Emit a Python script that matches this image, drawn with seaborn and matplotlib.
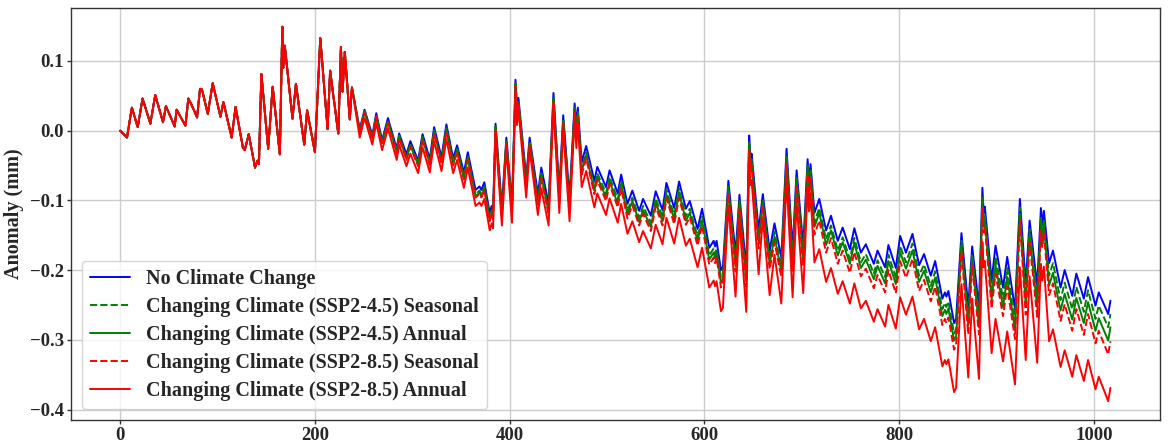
import matplotlib
matplotlib.use("Agg")
import matplotlib.pyplot as plt
import seaborn as sns
import pandas as pd

# ---- data (vertices) ----
early_x = [0, 7, 12, 18, 23, 31, 36, 44, 47, 56,
           58, 67, 70, 73, 79, 82, 84, 90, 95, 103,
           106, 114.5, 118.5, 126, 128, 132, 138.5, 141, 142.5, 145,
           152, 156.6, 164, 166.5, 167.5, 169, 177, 180.5, 189, 192,
           200, 205.5, 213, 215.6, 224, 226.7, 228.4, 230.7, 235.8, 238]
early_y = [0.000, -0.010, 0.033, 0.005, 0.046, 0.010, 0.051, 0.012, 0.035, 0.006,
           0.030, 0.007, 0.046, 0.038, 0.019, 0.060, 0.059, 0.024, 0.068, 0.020,
           0.041, -0.010, 0.034, -0.024, -0.028, -0.005, -0.053, -0.043, -0.048, 0.081,
           -0.026, 0.063, -0.034, 0.149, 0.090, 0.122, 0.017, 0.067, -0.020, 0.029,
           -0.031, 0.133, 0.002, 0.086, -0.004, 0.120, 0.056, 0.113, 0.016, 0.062]

late_x = [246, 251, 259, 263, 269, 275, 284, 286.5, 294, 298,
          306, 310.5, 318, 322.4, 330, 335, 342, 346, 353, 357,
          365, 369, 371, 374, 379.5, 381.5, 383, 385.5, 392, 396.6,
          402.4, 406, 407.5, 409, 417, 420.5, 429, 432.5, 440, 445,
          451, 455, 461.5, 466.7, 468.5, 470, 474, 478.6, 487, 490,
          499, 502.6, 511, 514.5, 521, 526, 533, 537, 545, 550,
          557, 561, 569, 574, 581, 585, 593, 597.6, 605, 609.5,
          611, 612.5, 617, 619, 624.6, 632, 636, 643, 646, 647.3,
          648.5, 655.7, 660, 667, 672, 679, 684.4, 690.6, 694.7, 701.5,
          706, 707.5, 709, 713, 718, 725, 730, 737, 742, 749.4,
          754, 760.7, 765.8, 774, 777.8, 785.6, 789, 796.6, 801, 807,
          813.7, 820.5, 825.6, 832.5, 837, 844.4, 847, 848.5, 850.6, 856.4,
          858.5, 864, 871, 875, 882, 885.5, 886.8, 888, 895, 899,
          906.7, 911, 919, 924, 930, 934, 941.8, 945.6, 947, 948.7,
          954, 958, 965.8, 970, 977.8, 982, 989.7, 994, 1001.7, 1005,
          1014.7, 1017]

no_change_late = [0.002, 0.030, -0.007, 0.025, -0.014, 0.018, -0.026, -0.004, -0.034, -0.015,
                  -0.043, -0.005, -0.041, 0.005, -0.038, 0.009, -0.040, -0.021, -0.060, -0.031,
                  -0.085, -0.080, -0.085, -0.074, -0.118, -0.108, -0.115, 0.010, -0.110, -0.010,
                  -0.105, 0.073, 0.035, 0.047, -0.067, -0.010, -0.091, -0.053, -0.105, 0.054,
                  -0.086, 0.022, -0.096, 0.039, 0.010, 0.033, -0.045, -0.022, -0.072, -0.052,
                  -0.081, -0.057, -0.090, -0.063, -0.105, -0.086, -0.115, -0.098, -0.122, -0.087,
                  -0.114, -0.075, -0.111, -0.073, -0.112, -0.101, -0.141, -0.112, -0.168, -0.158,
                  -0.166, -0.158, -0.200, -0.195, -0.072, -0.177, -0.092, -0.198, -0.007, -0.040,
                  -0.033, -0.143, -0.091, -0.172, -0.133, -0.182, -0.026, -0.172, -0.057, -0.165,
                  -0.041, -0.075, -0.048, -0.118, -0.098, -0.143, -0.122, -0.158, -0.139, -0.170,
                  -0.140, -0.175, -0.163, -0.191, -0.172, -0.196, -0.164, -0.197, -0.151, -0.175,
                  -0.148, -0.193, -0.177, -0.208, -0.187, -0.241, -0.232, -0.238, -0.230, -0.276,
                  -0.270, -0.147, -0.253, -0.166, -0.253, -0.082, -0.118, -0.109, -0.215, -0.165,
                  -0.225, -0.181, -0.256, -0.098, -0.220, -0.129, -0.222, -0.111, -0.135, -0.115,
                  -0.190, -0.172, -0.225, -0.200, -0.237, -0.205, -0.241, -0.210, -0.251, -0.232,
                  -0.263, -0.244]

ssp245_seasonal_late = [0.000, 0.028, -0.009, 0.022, -0.017, 0.015, -0.029, -0.007, -0.038, -0.019,
                        -0.047, -0.009, -0.045, 0.001, -0.043, 0.004, -0.045, -0.026, -0.065, -0.036,
                        -0.091, -0.086, -0.091, -0.080, -0.124, -0.114, -0.121, 0.006, -0.117, -0.015,
                        -0.112, 0.068, 0.028, 0.042, -0.074, -0.015, -0.099, -0.061, -0.113, 0.048,
                        -0.094, 0.016, -0.104, 0.033, 0.002, 0.027, -0.054, -0.031, -0.081, -0.061,
                        -0.090, -0.066, -0.099, -0.072, -0.115, -0.096, -0.125, -0.108, -0.132, -0.097,
                        -0.124, -0.085, -0.121, -0.083, -0.123, -0.112, -0.152, -0.123, -0.179, -0.169,
                        -0.177, -0.169, -0.211, -0.206, -0.080, -0.189, -0.100, -0.210, -0.015, -0.048,
                        -0.041, -0.155, -0.099, -0.184, -0.145, -0.195, -0.035, -0.185, -0.066, -0.178,
                        -0.050, -0.084, -0.057, -0.131, -0.111, -0.156, -0.136, -0.172, -0.153, -0.184,
                        -0.154, -0.189, -0.177, -0.205, -0.186, -0.210, -0.178, -0.211, -0.165, -0.189,
                        -0.162, -0.208, -0.192, -0.223, -0.202, -0.256, -0.247, -0.253, -0.245, -0.291,
                        -0.285, -0.158, -0.268, -0.177, -0.269, -0.093, -0.129, -0.120, -0.231, -0.181,
                        -0.241, -0.197, -0.273, -0.110, -0.237, -0.141, -0.240, -0.124, -0.148, -0.128,
                        -0.208, -0.190, -0.243, -0.218, -0.256, -0.224, -0.260, -0.229, -0.270, -0.251,
                        -0.282, -0.263]

ssp245_annual_late = [-0.001, 0.027, -0.011, 0.021, -0.018, 0.013, -0.031, -0.009, -0.040, -0.021,
                      -0.049, -0.011, -0.048, -0.002, -0.045, 0.002, -0.048, -0.029, -0.068, -0.039,
                      -0.094, -0.089, -0.094, -0.083, -0.127, -0.117, -0.124, 0.004, -0.120, -0.017,
                      -0.115, 0.066, 0.025, 0.040, -0.078, -0.018, -0.102, -0.064, -0.117, 0.046,
                      -0.098, 0.014, -0.109, 0.030, -0.003, 0.024, -0.058, -0.035, -0.086, -0.066,
                      -0.096, -0.072, -0.105, -0.078, -0.120, -0.101, -0.131, -0.114, -0.138, -0.103,
                      -0.130, -0.091, -0.127, -0.089, -0.129, -0.118, -0.158, -0.129, -0.185, -0.175,
                      -0.183, -0.175, -0.218, -0.213, -0.085, -0.195, -0.105, -0.217, -0.020, -0.053,
                      -0.046, -0.162, -0.104, -0.191, -0.152, -0.202, -0.040, -0.192, -0.071, -0.185,
                      -0.055, -0.089, -0.062, -0.138, -0.118, -0.164, -0.143, -0.179, -0.160, -0.191,
                      -0.161, -0.197, -0.185, -0.213, -0.194, -0.219, -0.187, -0.220, -0.174, -0.198,
                      -0.172, -0.217, -0.201, -0.232, -0.211, -0.266, -0.257, -0.263, -0.255, -0.301,
                      -0.295, -0.165, -0.279, -0.184, -0.280, -0.101, -0.137, -0.128, -0.242, -0.193,
                      -0.253, -0.210, -0.286, -0.119, -0.250, -0.150, -0.253, -0.133, -0.157, -0.137,
                      -0.222, -0.204, -0.258, -0.234, -0.271, -0.240, -0.276, -0.246, -0.287, -0.269,
                      -0.301, -0.282]

ssp585_seasonal_late = [-0.002, 0.026, -0.012, 0.020, -0.020, 0.012, -0.033, -0.011, -0.042, -0.023,
                        -0.051, -0.013, -0.050, -0.004, -0.047, 0.000, -0.050, -0.031, -0.070, -0.041,
                        -0.096, -0.091, -0.096, -0.085, -0.130, -0.120, -0.127, 0.002, -0.123, -0.019,
                        -0.118, 0.064, 0.022, 0.038, -0.081, -0.020, -0.106, -0.068, -0.120, 0.043,
                        -0.102, 0.011, -0.113, 0.027, -0.007, 0.021, -0.063, -0.040, -0.091, -0.071,
                        -0.101, -0.077, -0.110, -0.083, -0.126, -0.107, -0.136, -0.119, -0.144, -0.109,
                        -0.136, -0.097, -0.134, -0.096, -0.135, -0.124, -0.165, -0.136, -0.192, -0.182,
                        -0.190, -0.182, -0.225, -0.220, -0.090, -0.202, -0.110, -0.224, -0.025, -0.058,
                        -0.051, -0.169, -0.109, -0.199, -0.160, -0.210, -0.046, -0.201, -0.077, -0.195,
                        -0.062, -0.096, -0.069, -0.149, -0.129, -0.175, -0.154, -0.191, -0.172, -0.204,
                        -0.174, -0.209, -0.198, -0.226, -0.207, -0.232, -0.200, -0.233, -0.187, -0.211,
                        -0.184, -0.230, -0.214, -0.245, -0.224, -0.279, -0.270, -0.276, -0.268, -0.314,
                        -0.308, -0.174, -0.292, -0.193, -0.292, -0.110, -0.146, -0.137, -0.255, -0.205,
                        -0.266, -0.223, -0.299, -0.128, -0.264, -0.160, -0.267, -0.143, -0.167, -0.147,
                        -0.236, -0.219, -0.273, -0.249, -0.287, -0.256, -0.293, -0.263, -0.305, -0.287,
                        -0.321, -0.302]

ssp585_annual_late = [-0.010, 0.018, -0.020, 0.011, -0.028, 0.003, -0.042, -0.020, -0.051, -0.033,
                      -0.061, -0.024, -0.060, -0.015, -0.058, -0.012, -0.061, -0.042, -0.082, -0.053,
                      -0.108, -0.103, -0.108, -0.098, -0.143, -0.133, -0.140, -0.005, -0.136, -0.026,
                      -0.132, 0.057, 0.008, 0.031, -0.096, -0.027, -0.121, -0.083, -0.136, 0.035,
                      -0.118, 0.003, -0.130, 0.019, -0.025, 0.012, -0.081, -0.058, -0.110, -0.090,
                      -0.121, -0.097, -0.132, -0.105, -0.148, -0.130, -0.160, -0.144, -0.169, -0.135,
                      -0.163, -0.125, -0.162, -0.125, -0.165, -0.155, -0.196, -0.168, -0.225, -0.215,
                      -0.223, -0.216, -0.259, -0.254, -0.108, -0.238, -0.129, -0.260, -0.040, -0.078,
                      -0.071, -0.206, -0.125, -0.236, -0.178, -0.248, -0.070, -0.239, -0.103, -0.233,
                      -0.080, -0.116, -0.090, -0.189, -0.170, -0.217, -0.197, -0.234, -0.216, -0.248,
                      -0.219, -0.255, -0.244, -0.274, -0.256, -0.281, -0.250, -0.284, -0.239, -0.264,
                      -0.238, -0.285, -0.270, -0.302, -0.282, -0.338, -0.329, -0.335, -0.328, -0.375,
                      -0.369, -0.220, -0.354, -0.241, -0.356, -0.160, -0.196, -0.187, -0.319, -0.270,
                      -0.331, -0.288, -0.364, -0.196, -0.329, -0.209, -0.333, -0.191, -0.215, -0.195,
                      -0.302, -0.285, -0.339, -0.315, -0.353, -0.322, -0.359, -0.329, -0.371, -0.353,
                      -0.388, -0.369]

labels = ["No Climate Change",
          "Changing Climate (SSP2-4.5) Seasonal",
          "Changing Climate (SSP2-4.5) Annual",
          "Changing Climate (SSP2-8.5) Seasonal",
          "Changing Climate (SSP2-8.5) Annual"]
colors = ["blue", "green", "green", "red", "red"]
styles = ["-", "--", "-", "--", "-"]
series_late = [no_change_late, ssp245_seasonal_late, ssp245_annual_late,
               ssp585_seasonal_late, ssp585_annual_late]

x_all = early_x + late_x
rows = []
for lab, ys in zip(labels, series_late):
    for xv, yv in zip(x_all, early_y + ys):
        rows.append({"t": xv, "anomaly": yv, "series": lab})
df = pd.DataFrame(rows)

# ---- style ----
sns.set_style("white")
plt.rcParams["font.family"] = ["Liberation Serif", "DejaVu Serif"]
plt.rcParams["font.weight"] = "bold"
plt.rcParams["axes.labelweight"] = "bold"
plt.rcParams["axes.unicode_minus"] = True

fig = plt.figure(figsize=(11.7, 4.45), dpi=100)
ax = fig.add_axes([0.0604, 0.0562, 0.931, 0.926])

for lab, col, ls in zip(labels, colors, styles):
    sub = df[df["series"] == lab]
    sns.lineplot(data=sub, x="t", y="anomaly", ax=ax, color=col,
                 linestyle=ls, linewidth=1.4, label=lab,
                 estimator=None, sort=False)

ax.set_xlim(-50.85, 1067.85)
ax.set_ylim(-0.415, 0.176)
ax.set_xticks([0, 200, 400, 600, 800, 1000])
ax.set_yticks([-0.4, -0.3, -0.2, -0.1, 0.0, 0.1])
ax.grid(True, color="#cccccc", linewidth=1.0)
ax.set_axisbelow(True)
for s in ax.spines.values():
    s.set_color("#333333")
    s.set_linewidth(1.0)
ax.tick_params(axis="both", which="major", labelsize=13.5, length=3,
               width=1, pad=2, color="#333333", left=True, bottom=True)
for t in ax.get_xticklabels() + ax.get_yticklabels():
    t.set_fontweight("bold")
ax.set_xlabel("")
ax.set_ylabel("Anomaly (mm)", fontsize=14.5, fontweight="bold", labelpad=4)

leg = ax.legend(loc="lower left", prop={"size": 14.5, "weight": "bold"},
                frameon=True, fancybox=True, framealpha=0.8,
                edgecolor="#cccccc", labelspacing=0.4, borderaxespad=0.55)

fig.savefig("out.png", dpi=100)
